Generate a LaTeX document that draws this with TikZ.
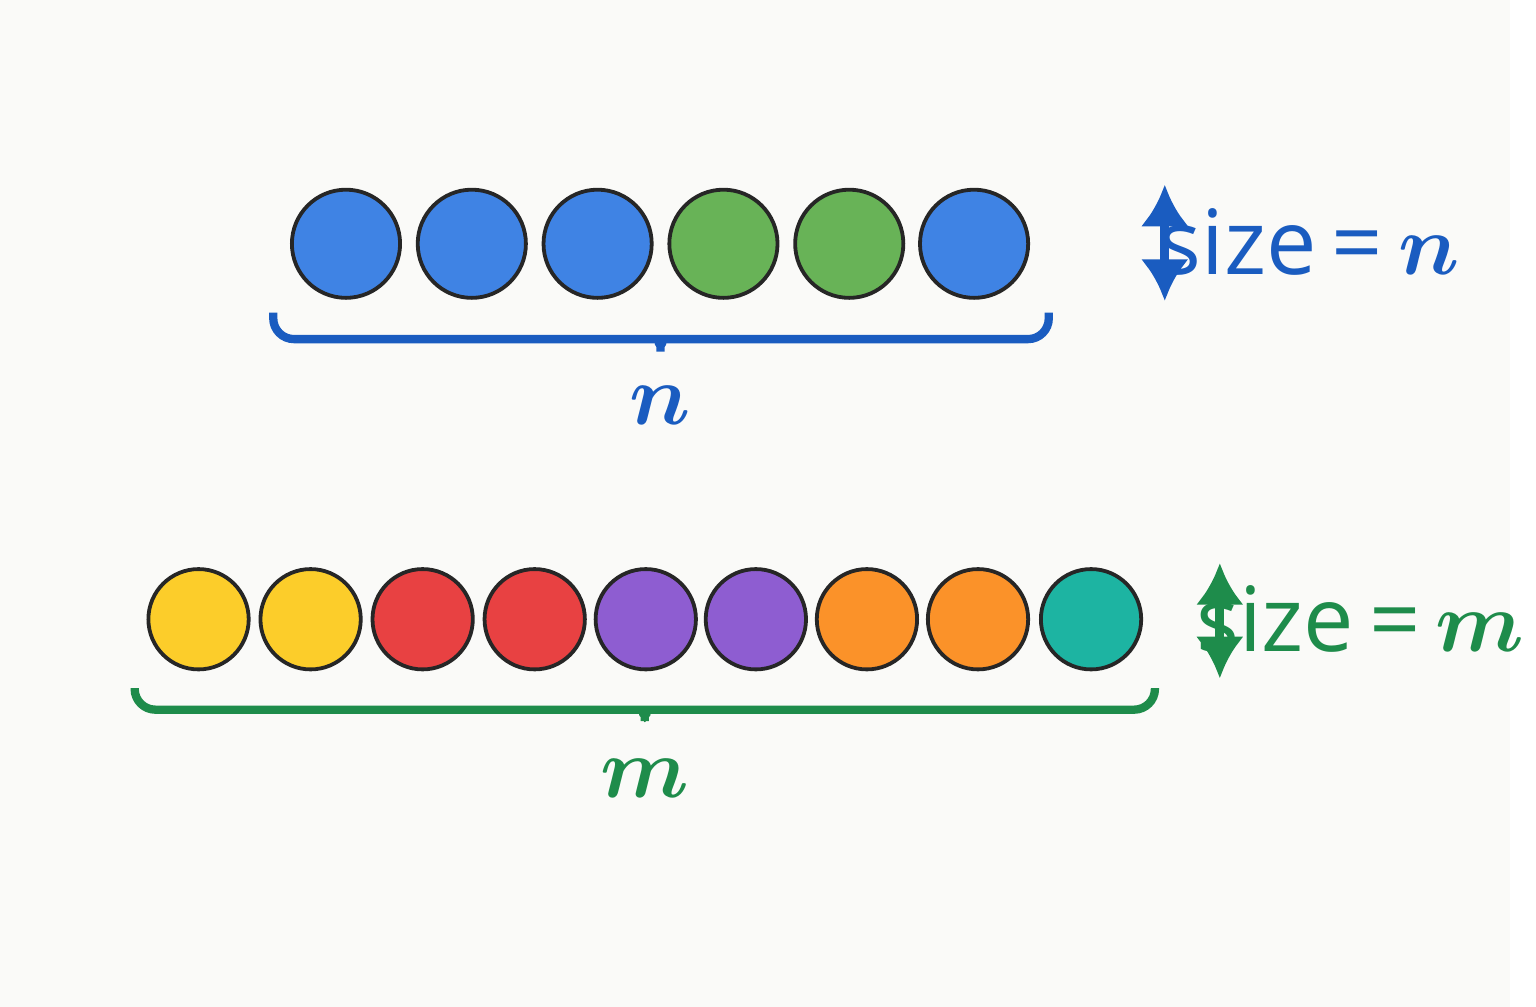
\documentclass[tikz,border=0pt]{standalone}
\usepackage{xcolor}
\usepackage{amsmath}
\usepackage{fontspec}
\setsansfont{Open Sans}
\usepackage{tikz}
\usetikzlibrary{arrows.meta}
\definecolor{cblue}{HTML}{3F83E4}
\definecolor{cgreen}{HTML}{68B357}
\definecolor{cyellow}{HTML}{FCCD2A}
\definecolor{cred}{HTML}{E84142}
\definecolor{cpurple}{HTML}{8E5DD1}
\definecolor{corange}{HTML}{FB9229}
\definecolor{cteal}{HTML}{1DB4A2}
\definecolor{nblue}{HTML}{1A5CC0}
\definecolor{mgreen}{HTML}{1E8C4B}
\definecolor{bg}{HTML}{FAFAF8}
\tikzset{
  ball/.style={draw=black!85, line width=1.1pt, circle, inner sep=0pt},
  brk/.style={line width=2.4pt, rounded corners=6pt},
  dbl/.style={line width=2.6pt, {Latex[length=12pt,width=14pt]}-{Latex[length=12pt,width=14pt]}},
}
\begin{document}
\begin{tikzpicture}[x=0.01cm, y=-0.01cm]
        \fill[bg] (0,0) rectangle (1536,1024);
        % top row
        \foreach \x/\c [count=\i] in {352/cblue,480/cblue,608/cblue,736/cgreen,864/cgreen,991/cblue}
            \node[ball, fill=\c, minimum size=1.1cm] (t\i) at (\x,248) {};
        % bottom row
        \foreach \x/\c [count=\i] in {202/cyellow,316/cyellow,430/cred,544/cred,657/cpurple,769/cpurple,882/corange,995/corange,1110/cteal}
            \node[ball, fill=\c, minimum size=1.02cm] (b\i) at (\x,630) {};

        \draw[brk, nblue] (278,318) -- (278,345) -- (650,345) .. controls (668,345) and (672,355) .. (672,370)
            .. controls (672,355) and (676,345) .. (694,345) -- (1067,345) -- (1067,318);
        \node[text=nblue, font=\fontsize{40}{40}\selectfont] (n) at (672,412) {$\boldsymbol{n}$};

        \draw[brk, mgreen] (137,700) -- (137,722) -- (634,722) .. controls (652,722) and (656,732) .. (656,746)
            .. controls (656,732) and (660,722) .. (678,722) -- (1175,722) -- (1175,700);
        \node[text=mgreen, font=\fontsize{40}{40}\selectfont] (m) at (656,792) {$\boldsymbol{m}$};

        \coordinate (tu) at (1185,188); \coordinate (td) at (1185,306);
        \draw[nblue, dbl] (tu) -- (td);
        \node[text=nblue, font=\sffamily\fontsize{26}{26}\selectfont] (sn) at (1332,246) {size\,=\,$\boldsymbol{n}$};

        \coordinate (bu) at (1241,573); \coordinate (bd) at (1241,690);
        \draw[mgreen, dbl] (bu) -- (bd);
        \node[text=mgreen, font=\sffamily\fontsize{26}{26}\selectfont] (sm) at (1384,630) {size\,=\,$\boldsymbol{m}$};
\end{tikzpicture}
\end{document}
